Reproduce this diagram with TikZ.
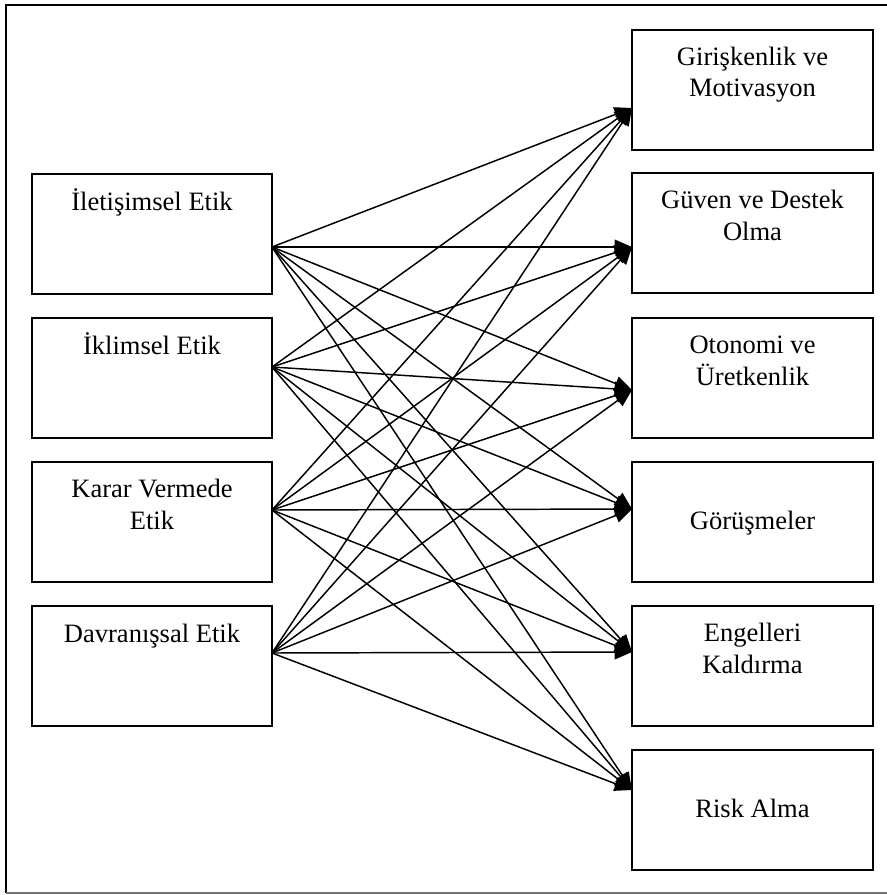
\documentclass[tikz,border=0pt]{standalone}
\usepackage{fontspec}
\setmainfont{Liberation Serif}
\usetikzlibrary{arrows.meta}
\begin{document}
\begin{tikzpicture}[x=0.75pt,y=-0.75pt,
  box/.style={draw,line width=1.4pt,minimum width=180pt,minimum height=90pt,inner sep=0pt},
  rbox/.style={box,minimum width=180.75pt},
  lbl/.style={anchor=base,align=center,inner sep=0pt,font=\fontsize{19.9}{23.3}\selectfont},
  link/.style={line width=1.1pt,-{Triangle[length=13pt,width=11pt]}},
  frameline/.style={line width=1.5pt}]
\useasboundingbox (0,0) rectangle (886,895);

% outer frame
\draw[frameline] (895,5) -- (6,5) -- (6,893);
\draw[frameline,black!55] (6,893) -- (895,893);

% left column
\node[box] (l1) at (152,234) {};
\node[box] (l2) at (152,378) {};
\node[box] (l3) at (152,522) {};
\node[box] (l4) at (152,666) {};

% right column
\node[rbox] (r1) at (752.5,90) {};
\node[rbox] (r2) at (752.5,233) {};
\node[rbox] (r3) at (752.5,378) {};
\node[rbox] (r4) at (752.5,522) {};
\node[rbox] (r5) at (752.5,666) {};
\node[rbox] (r6) at (752.5,810) {};

% labels (base anchor = baseline of the last line)
\node[lbl] (l1t) at (152,210) {İletişimsel Etik};
\node[lbl] (l2t) at (152,354) {İklimsel Etik};
\node[lbl] (l3t) at (152,529) {Karar Vermede\\Etik};
\node[lbl] (l4t) at (152,642) {Davranışsal Etik};
\node[lbl] (r1t) at (752.5,97) {Girişkenlik ve\\Motivasyon};
\node[lbl] (r2t) at (752.5,240) {Güven ve Destek\\Olma};
\node[lbl] (r3t) at (752.5,385) {Otonomi ve\\Üretkenlik};
\node[lbl] (r4t) at (752.5,529) {Görüşmeler};
\node[lbl] (r5t) at (752.5,673) {Engelleri\\Kaldırma};
\node[lbl] (r6t) at (752.5,817) {Risk Alma};

% connection points on the box edges
\coordinate (l1o) at (272,247);
\coordinate (l2o) at (272,367);
\coordinate (l3o) at (272,510);
\coordinate (l4o) at (272,653);
\coordinate (r1i) at (632,108);
\coordinate (r2i) at (632,247);
\coordinate (r3i) at (632,390);
\coordinate (r4i) at (632,509);
\coordinate (r5i) at (632,652);
\coordinate (r6i) at (632,790);

% every source feeds every target
\foreach \s in {l1o,l2o,l3o,l4o}
  \foreach \t in {r1i,r2i,r3i,r4i,r5i,r6i}
    \draw[link] (\s) -- (\t);
\end{tikzpicture}
\end{document}
